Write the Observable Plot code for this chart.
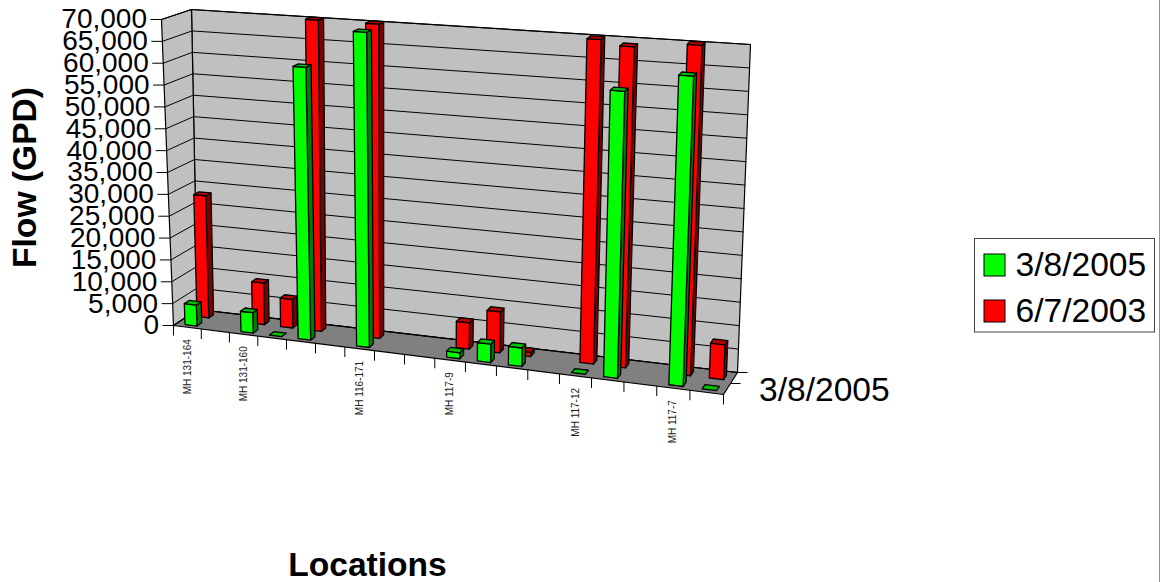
<!DOCTYPE html>
<html><head><meta charset="utf-8">
<style>html,body{margin:0;padding:0;background:#fff;overflow:hidden}svg{display:block}</style>
<script src="https://cdn.jsdelivr.net/npm/d3@7"></script>
<script src="https://cdn.jsdelivr.net/npm/@observablehq/plot@0.6"></script>
</head><body><div id="chart"></div>
<script>
const categories = ["MH 131-164","","MH 131-160","","","","MH 116-171","","","MH 117-9","","","","MH 117-12","","","MH 117-7",""];
const series2005 = [4800,null,4600,0,61200,null,70000,null,null,1300,4000,4000,null,0,61300,null,65600,0];
const series2003 = [28200,null,9500,6500,70500,null,70500,null,null,5800,9000,900,null,70300,69200,null,70500,7400];
const yTicks = d3.range(0,70001,5000);
const seriesNames = ["3/8/2005","6/7/2003"];
const seriesColors = ["#00ff00","#ff0000"];
const topColors = ["#00c000","#c00000"];
const sideColors = ["#008000","#800000"];

// 3D frame, corners of the plot box on the page
const FLB=[173,325],FRB=[723,394],BLB=[197,309],BRB=[737,372],
      FLT=[161,19],FRT=[736,60],BLT=[191,9],BRT=[750,44];
const warp=u=>u/(1+0.105*(1-u));
const mix=(a,b,t)=>[a[0]+(b[0]-a[0])*t,a[1]+(b[1]-a[1])*t];
function P(cat,depth,val){
  const u=warp(cat/categories.length), t=val/70000;
  const fb=mix(FLB,FRB,u), bb=mix(BLB,BRB,u), ft=mix(FLT,FRT,u), bt=mix(BLT,BRT,u);
  const b=mix(fb,bb,depth), tp=mix(ft,bt,depth);
  return mix(b,tp,t);
}
const polys=[]; let pid=0;
function poly(points,fill){const id=pid++;[...points,points[0]].forEach(p=>polys.push({x:p[0],y:p[1],id,fill}));}
function addBar(cat,val,row){
  const a=cat+0.31,b=cat+0.74,d0=row===0?0.125:0.625,d1=d0+0.2;
  const top=[P(a,d0,val),P(b,d0,val),P(b,d1,val),P(a,d1,val)];
  const front=[P(a,d0,0),P(b,d0,0),P(b,d0,val),P(a,d0,val)];
  const side=[P(b,d0,0),P(b,d1,0),P(b,d1,val),P(b,d0,val)];
  if(val>0){poly(side,sideColors[row]);poly(front,seriesColors[row]);}
  poly(top,topColors[row]);
}
const n=categories.length;
poly([P(0,1,0),P(n,1,0),P(n,1,70000),P(0,1,70000)],"#c0c0c0");
poly([P(0,0,0),P(0,1,0),P(0,1,70000),P(0,0,70000)],"#c0c0c0");
poly([P(0,0,0),P(n,0,0),P(n,1,0),P(0,1,0)],"#808080");
const wallPolys=polys.slice();
polys.length=0;
series2003.forEach((v,i)=>{if(v!=null)addBar(i,v,1)});
series2005.forEach((v,i)=>{if(v!=null)addBar(i,v,0)});
const barPolys=polys.slice();

const grid=[];
yTicks.forEach(v=>[P(0,0,v),P(0,1,v),P(n,1,v)].forEach(p=>grid.push({x:p[0],y:p[1],v})));
const yTickRows=yTicks.map(v=>{const p=P(0,0,v);return{x:p[0],y:p[1],label:d3.format(",")(v)}});
const catTicks=d3.range(0,n+1).map(i=>{const p=P(i,0,0);return{x:p[0],y:p[1]}});
const catLabels=categories.map((c,i)=>{const p=P(i+0.5,0,0);return{x:p[0],y:p[1],c}}).filter(d=>d.c);
const depthTicks=[0.5,1].map(d=>{const p=P(n,d,0);return{x:p[0],y:p[1]}});
const depthLabel=P(n,0.5,0);
const legendRows=seriesNames.map((name,i)=>({name,color:seriesColors[i],y:265+46*i}));

const plot=Plot.plot({
  width:1160,height:582,margin:0,
  x:{type:"linear",domain:[0,1160],range:[0,1160],axis:null},
  y:{type:"linear",domain:[0,582],range:[0,582],axis:null},
  color:{type:"identity"},
  style:{background:"#fff",fontFamily:"'Liberation Sans',Arial,sans-serif",color:"#000"},
  marks:[
    Plot.line(wallPolys,{x:"x",y:"y",z:"id",fill:"fill",stroke:"#000",strokeWidth:1.2,curve:"linear"}),
    Plot.line(grid,{x:"x",y:"y",z:"v",stroke:"#000",strokeWidth:1,curve:"linear"}),
    Plot.line(barPolys,{x:"x",y:"y",z:"id",fill:"fill",stroke:"#000",strokeWidth:1.3,strokeLinejoin:"round",curve:"linear"}),
    Plot.link(yTickRows,{x1:d=>d.x-11,x2:"x",y1:"y",y2:"y",stroke:"#000",strokeWidth:1}),
    Plot.text(yTickRows,{x:"x",y:"y",text:"label",dx:-14.5,textAnchor:"end",fontSize:28,fill:"#000",lineAnchor:"middle"}),
    Plot.link(catTicks,{x1:"x",x2:"x",y1:"y",y2:d=>d.y+10,stroke:"#000",strokeWidth:1}),
    Plot.text(catLabels,{x:"x",y:"y",dy:12,text:"c",rotate:-90,textAnchor:"end",lineAnchor:"middle",fontSize:10,fill:"#222"}),
    Plot.link(depthTicks,{x1:"x",x2:d=>d.x+10,y1:"y",y2:"y",stroke:"#000",strokeWidth:1}),
    Plot.text([seriesNames[0]],{x:()=>758.5,y:()=>depthLabel[1]+7,text:d=>d,textAnchor:"start",fontSize:33.6,fill:"#000",lineAnchor:"middle"}),
    Plot.text(["Flow (GPD)"],{x:()=>25,y:()=>177,text:d=>d,rotate:-90,fontSize:33.6,fontWeight:"bold",fill:"#000",lineAnchor:"middle"}),
    Plot.text(["Locations"],{x:()=>367,y:()=>564.5,text:d=>d,fontSize:33.6,fontWeight:"bold",fill:"#000",lineAnchor:"middle"}),
    Plot.rect([0],{x1:()=>974.5,x2:()=>1154.5,y1:()=>238.5,y2:()=>332,fill:"#fff",stroke:"#444",strokeWidth:1}),
    Plot.rect(legendRows,{x1:()=>984,x2:()=>1005,y1:d=>d.y-11,y2:d=>d.y+11,fill:"color",stroke:"#000",strokeWidth:1}),
    Plot.text(legendRows,{x:()=>1015,y:"y",text:"name",textAnchor:"start",fontSize:33.6,fill:"#000",lineAnchor:"middle"}),
    Plot.ruleX([1159.5],{stroke:"#222",strokeWidth:1})
  ]
});
document.getElementById("chart").appendChild(plot);
</script></body></html>
